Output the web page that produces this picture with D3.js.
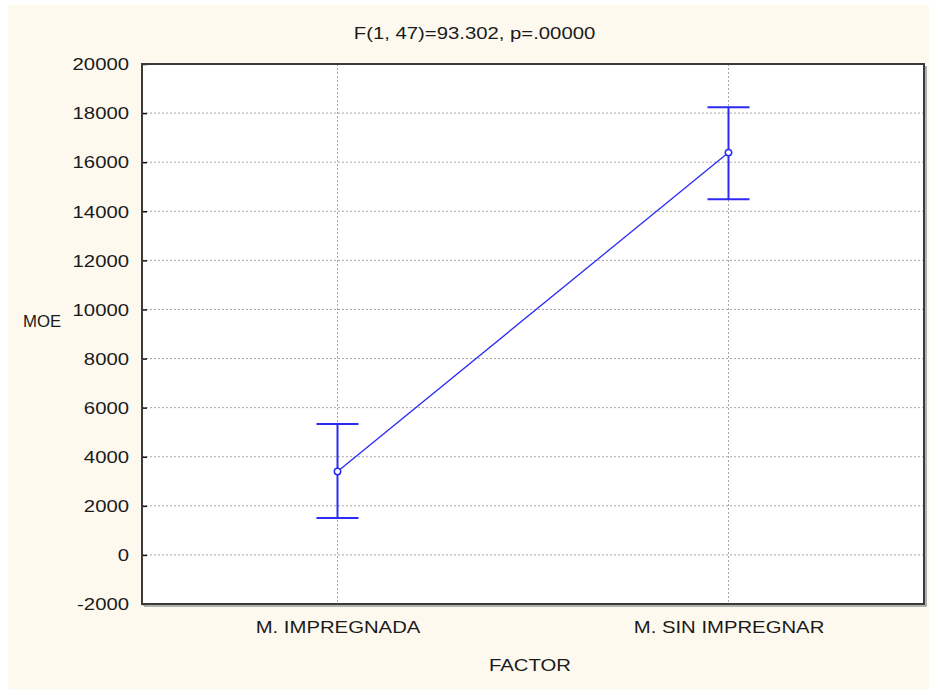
<!DOCTYPE html>
<head>
<meta charset="utf-8">
<style>
  body { margin: 0; background: #ffffff; }
  text { font-family: "Liberation Sans", Arial, sans-serif; fill: #1a1a1a; }
</style>
</head>

<body>
    <svg id="container" width="929" height="689"></svg>
</body>

<script src="https://d3js.org/d3.v7.min.js"></script>
<script>

    // values
    let categories = ["M. IMPREGNADA", "M. SIN IMPREGNAR"]
    let means = [3400, 16390]
    let lower = [1500, 14490]
    let upper = [5330, 18240]
    let yTicks = [-2000, 0, 2000, 4000, 6000, 8000, 10000, 12000, 14000, 16000, 18000, 20000]
    let title = "F(1, 47)=93.302, p=.00000"
    let xTitle = "FACTOR"
    let yTitle = "MOE"

    let svg = d3.select("#container")
    let marginLeft = 142, marginTop = 64, bodyWidth = 782, bodyHeight = 540
    let sx = 1.27   // the text in the picture is stretched sideways

    svg.append("rect")
        .attr("x", 8).attr("y", 5)
        .attr("width", 921).attr("height", 684)
        .attr("fill", "#fef9ef")

    let body = svg.append("g").attr("transform", `translate(${marginLeft},${marginTop})`)

    body.append("rect")
        .attr("width", bodyWidth).attr("height", bodyHeight)
        .attr("fill", "white")

    let yScale = d3.scaleLinear().domain([-2000, 20000]).range([bodyHeight, 0])
    let xScale = d3.scalePoint().domain(categories).range([0, bodyWidth]).padding(0.5)

    // grid
    body.selectAll(".hgrid")
        .data(yTicks.filter(d => d > -2000 && d < 20000))
        .enter().append("line")
        .attr("x1", 0).attr("x2", bodyWidth)
        .attr("y1", d => yScale(d)).attr("y2", d => yScale(d))
        .attr("stroke", "#a8a8a8").attr("stroke-dasharray", "2,2")
    body.selectAll(".vgrid")
        .data(categories)
        .enter().append("line")
        .attr("x1", d => xScale(d)).attr("x2", d => xScale(d))
        .attr("y1", 0).attr("y2", bodyHeight)
        .attr("stroke", "#a8a8a8").attr("stroke-dasharray", "2,2")

    // y axis
    let yAxis = body.append("g")
        .call(d3.axisLeft(yScale).tickValues(yTicks).tickSize(-5).tickFormat(d => String(d)))
    yAxis.select(".domain").remove()
    yAxis.selectAll("line").attr("stroke", "#111").attr("stroke-width", 1.5)
    yAxis.selectAll("text")
        .attr("x", 0).attr("dy", "0.36em")
        .attr("transform", `translate(-13,0) scale(${sx},1)`)
        .style("font-size", "16px").style("font-family", "Liberation Sans, Arial, sans-serif")
        .attr("fill", "#1a1a1a")

    // x axis labels
    let xAxis = body.append("g")
        .attr("transform", `translate(0,${bodyHeight})`)
        .call(d3.axisBottom(xScale).tickSize(0))
    xAxis.select(".domain").remove()
    xAxis.selectAll("text")
        .attr("y", 0).attr("dy", 0)
        .attr("transform", `translate(0,29) scale(${sx},1)`)
        .style("font-size", "16px").style("font-family", "Liberation Sans, Arial, sans-serif")
        .attr("fill", "#1a1a1a")

    // frame with a soft shadow
    body.append("path")
        .attr("d", `M${bodyWidth + 2},2 V${bodyHeight + 2} H2`)
        .attr("fill", "none").attr("stroke", "#9a9a9a").attr("stroke-width", 1.5)
    body.append("rect")
        .attr("width", bodyWidth).attr("height", bodyHeight)
        .attr("fill", "none").attr("stroke", "#3a3a3a").attr("stroke-width", 2)

    // mean line
    let blue = "#2b2bf5"
    body.append("path")
        .datum(categories.map((c, i) => [xScale(c), yScale(means[i])]))
        .attr("d", d3.line())
        .attr("fill", "none").attr("stroke", blue).attr("stroke-width", 1.3)

    // error bars
    let bars = body.selectAll(".err").data(categories).enter().append("g")
    bars.append("line")
        .attr("x1", d => xScale(d)).attr("x2", d => xScale(d))
        .attr("y1", (d, i) => yScale(lower[i])).attr("y2", (d, i) => yScale(upper[i]))
        .attr("stroke", blue).attr("stroke-width", 2)
    bars.append("line")
        .attr("x1", d => xScale(d) - 21).attr("x2", d => xScale(d) + 21)
        .attr("y1", (d, i) => yScale(upper[i])).attr("y2", (d, i) => yScale(upper[i]))
        .attr("stroke", blue).attr("stroke-width", 2)
    bars.append("line")
        .attr("x1", d => xScale(d) - 21).attr("x2", d => xScale(d) + 21)
        .attr("y1", (d, i) => yScale(lower[i])).attr("y2", (d, i) => yScale(lower[i]))
        .attr("stroke", blue).attr("stroke-width", 2)
    bars.append("circle")
        .attr("cx", d => xScale(d)).attr("cy", (d, i) => yScale(means[i]))
        .attr("r", 3.2)
        .attr("fill", "white").attr("stroke", blue).attr("stroke-width", 1.5)

    // titles
    svg.append("text")
        .attr("transform", `translate(474.5,39) scale(${sx},1)`)
        .attr("text-anchor", "middle").style("font-size", "16px")
        .text(title)
    svg.append("text")
        .attr("transform", `translate(530,671) scale(${sx},1)`)
        .attr("text-anchor", "middle").style("font-size", "16px")
        .text(xTitle)
    svg.append("text")
        .attr("transform", `translate(23,327) scale(1.05,1)`)
        .style("font-size", "16px")
        .text(yTitle)

</script>
